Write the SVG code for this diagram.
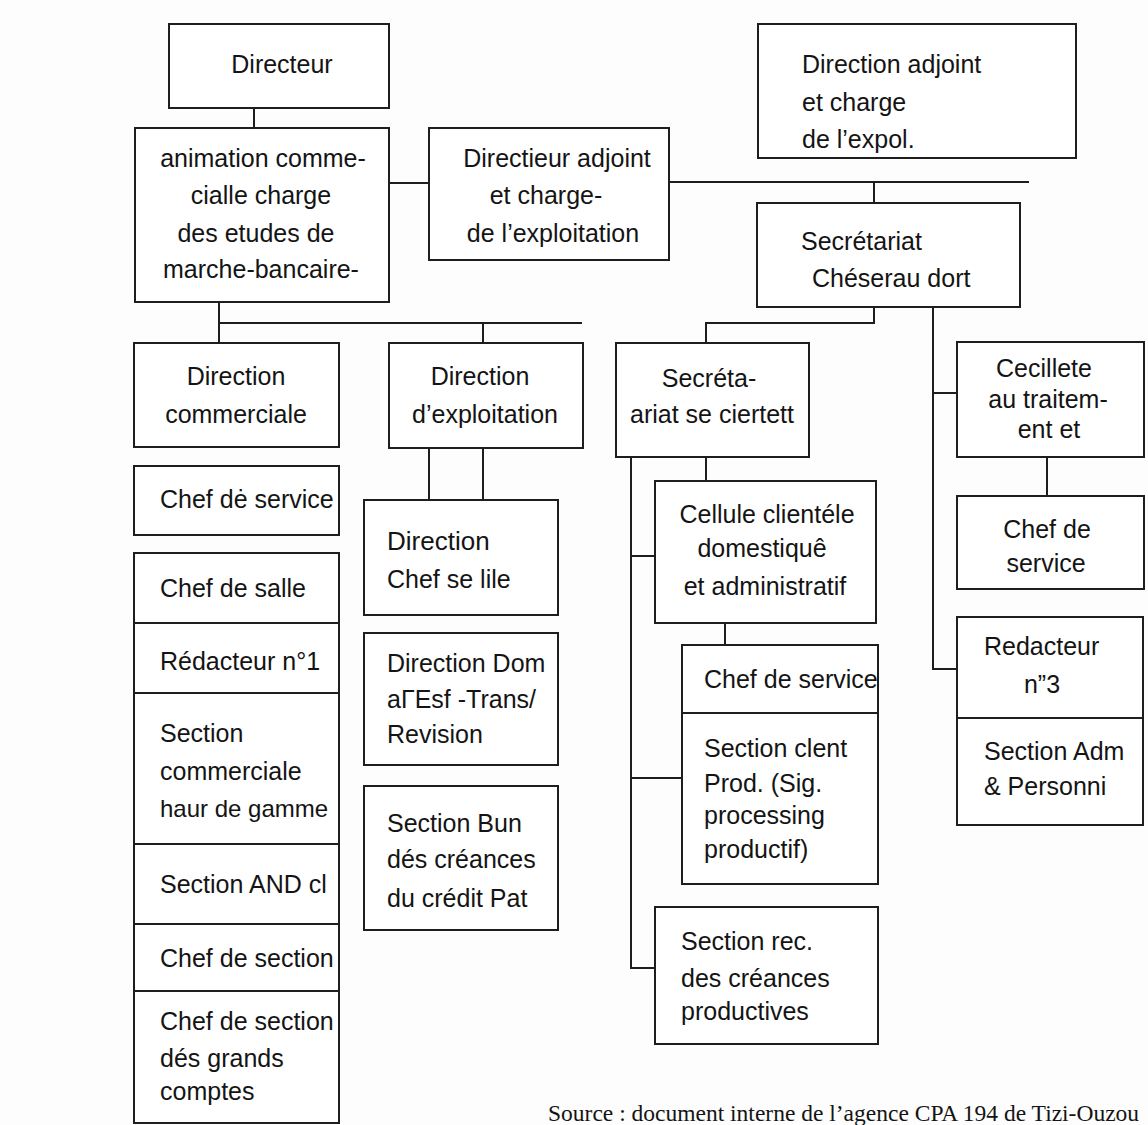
<svg xmlns="http://www.w3.org/2000/svg" width="1148" height="1125" viewBox="0 0 1148 1125">
<style>
.box{fill:#ffffff;stroke:#1e1e1e;stroke-width:2}
.ln{fill:none;stroke:#1e1e1e;stroke-width:2}
.t{font-family:"Liberation Sans",Arial,sans-serif;font-size:25px;fill:#141414}
.m{text-anchor:middle}
.src{font-family:"Liberation Serif","Times New Roman",serif;font-size:23.5px;fill:#141414}
</style>
<rect x="0" y="0" width="1148" height="1125" fill="#fdfdfd"/>
<g id="connectors">
<path class="ln" d="M254 108V128"/>
<path class="ln" d="M389 183H429"/>
<path class="ln" d="M669 182H1029"/>
<path class="ln" d="M874 182V203"/>
<path class="ln" d="M219 302V343"/>
<path class="ln" d="M219 323H582"/>
<path class="ln" d="M483 323V343"/>
<path class="ln" d="M429 448V500"/>
<path class="ln" d="M483 448V500"/>
<path class="ln" d="M874 307V323H706V343"/>
<path class="ln" d="M933 307V669H957"/>
<path class="ln" d="M933 393H957"/>
<path class="ln" d="M1047 457V496"/>
<path class="ln" d="M631 457V968H655"/>
<path class="ln" d="M631 556H655"/>
<path class="ln" d="M631 778H682"/>
<path class="ln" d="M706 457V481"/>
<path class="ln" d="M725 623V645"/>
</g>
<g id="directeur">
<rect class="box" x="169" y="24" width="220" height="84"/>
<text class="t m" x="282" y="73" font-size="27.5">Directeur</text>
</g>
<g id="animation">
<rect class="box" x="135" y="128" width="254" height="174"/>
<text class="t m" font-size="26.5"><tspan x="263" y="167">animation comme-</tspan><tspan x="261" y="204">cialle charge</tspan><tspan x="256" y="242">des etudes de</tspan><tspan x="261" y="278">marche-bancaire-</tspan></text>
</g>
<g id="directieur-adjoint">
<rect class="box" x="429" y="128" width="240" height="132"/>
<text class="t m" font-size="25.5"><tspan x="557" y="167">Directieur adjoint</tspan><tspan x="546" y="204">et charge-</tspan><tspan x="553" y="242">de l’exploitation</tspan></text>
</g>
<g id="direction-adjoint">
<rect class="box" x="758" y="24" width="318" height="134"/>
<text class="t" font-size="28"><tspan x="802" y="73">Direction adjoint</tspan><tspan x="802" y="111">et charge</tspan><tspan x="802" y="148">de l’expol.</tspan></text>
</g>
<g id="secretariat">
<rect class="box" x="757" y="203" width="263" height="104"/>
<text class="t" x="801" y="250" font-size="26.5">Secrétariat</text>
<text class="t" x="812" y="287" font-size="23">Chéserau dort</text>
</g>
<g id="direction-commerciale">
<rect class="box" x="134" y="343" width="205" height="104"/>
<text class="t m" font-size="26"><tspan x="236" y="385">Direction</tspan><tspan x="236" y="423">commerciale</tspan></text>
</g>
<g id="direction-exploitation">
<rect class="box" x="389" y="343" width="194" height="105"/>
<text class="t m" font-size="26.5"><tspan x="480" y="385">Direction</tspan><tspan x="485" y="423">d’exploitation</tspan></text>
</g>
<g id="chef-service-1">
<rect class="box" x="134" y="466" width="205" height="69"/>
<text class="t" x="160" y="508" font-size="23">Chef dė service</text>
</g>
<g id="chef-salle">
<rect class="box" x="134" y="553" width="205" height="70"/>
<text class="t" x="160" y="597">Chef de salle</text>
</g>
<g id="redacteur-1">
<rect class="box" x="134" y="623" width="205" height="70"/>
<text class="t" x="160" y="670" font-size="24.5">Rédacteur n°1</text>
</g>
<g id="section-commerciale">
<rect class="box" x="134" y="693" width="205" height="151"/>
<text class="t" font-size="24.5"><tspan x="160" y="742">Section</tspan><tspan x="160" y="780">commerciale</tspan><tspan x="160" y="817" font-size="24">haur de gamme</tspan></text>
</g>
<g id="section-and">
<rect class="box" x="134" y="844" width="205" height="80"/>
<text class="t" x="160" y="893" font-size="24.5">Section AND cl</text>
</g>
<g id="chef-section">
<rect class="box" x="134" y="924" width="205" height="67"/>
<text class="t" x="160" y="967" font-size="23.2">Chef de section</text>
</g>
<g id="chef-section-grands">
<rect class="box" x="134" y="991" width="205" height="132"/>
<text class="t" font-size="23.2"><tspan x="160" y="1030">Chef de section</tspan><tspan x="160" y="1067">dés grands</tspan><tspan x="160" y="1100">comptes</tspan></text>
</g>
<g id="direction-chef">
<rect class="box" x="364" y="500" width="194" height="115"/>
<text class="t"><tspan x="387" y="550" font-size="26">Direction</tspan><tspan x="387" y="588">Chef se lile</tspan></text>
</g>
<g id="direction-dom">
<rect class="box" x="364" y="633" width="194" height="132"/>
<text class="t"><tspan x="387" y="672">Direction Dom</tspan><tspan x="387" y="708">aΓEsf -Trans/</tspan><tspan x="387" y="743">Revision</tspan></text>
</g>
<g id="section-bun">
<rect class="box" x="364" y="786" width="194" height="144"/>
<text class="t"><tspan x="387" y="832">Section Bun</tspan><tspan x="387" y="868">dés créances</tspan><tspan x="387" y="907">du crédit Pat</tspan></text>
</g>
<g id="secreta">
<rect class="box" x="616" y="343" width="193" height="114"/>
<text class="t m"><tspan x="709" y="387">Secréta-</tspan><tspan x="712" y="423">ariat se ciertett</tspan></text>
</g>
<g id="cellule">
<rect class="box" x="655" y="481" width="221" height="142"/>
<text class="t m" font-size="26"><tspan x="767" y="523">Cellule clientéle</tspan><tspan x="762" y="557">domestiquê</tspan><tspan x="765" y="595">et administratif</tspan></text>
</g>
<g id="chef-service-2">
<rect class="box" x="682" y="645" width="196" height="68"/>
<text class="t" x="704" y="688" font-size="22.5">Chef de service</text>
</g>
<g id="section-clent">
<rect class="box" x="682" y="713" width="196" height="171"/>
<text class="t"><tspan x="704" y="757">Section clent</tspan><tspan x="704" y="792">Prod. (Sig.</tspan><tspan x="704" y="824">processing</tspan><tspan x="704" y="858">productif)</tspan></text>
</g>
<g id="section-rec">
<rect class="box" x="655" y="907" width="223" height="137"/>
<text class="t" font-size="25.5"><tspan x="681" y="950">Section rec.</tspan><tspan x="681" y="987">des créances</tspan><tspan x="681" y="1020">productives</tspan></text>
</g>
<g id="cecillete">
<rect class="box" x="957" y="342" width="187" height="115"/>
<text class="t m"><tspan x="1044" y="377">Cecillete</tspan><tspan x="1048" y="408">au traitem-</tspan><tspan x="1049" y="438">ent et</tspan></text>
</g>
<g id="chef-service-3">
<rect class="box" x="957" y="496" width="187" height="93"/>
<text class="t m"><tspan x="1047" y="538">Chef de</tspan><tspan x="1046" y="572">service</tspan></text>
</g>
<g id="redacteur-3">
<rect class="box" x="957" y="617" width="186" height="101"/>
<text class="t" x="984" y="655" font-size="25.5">Redacteur</text>
<text class="t m" x="1042" y="693" font-size="25.5">n”3</text>
</g>
<g id="section-adm">
<rect class="box" x="957" y="718" width="186" height="107"/>
<text class="t" font-size="25.5"><tspan x="984" y="760">Section Adm</tspan><tspan x="984" y="795">&amp; Personni</tspan></text>
</g>
<text class="src" x="548" y="1121">Source : document interne de l’agence CPA 194 de Tizi-Ouzou</text>
</svg>
